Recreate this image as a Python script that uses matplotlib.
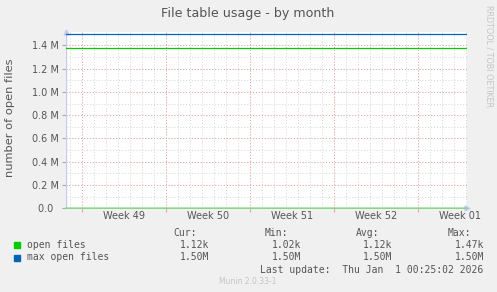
import numpy as np
import matplotlib
matplotlib.use("Agg")
from matplotlib import pyplot as plt

# data
week_labels = ["Week 49", "Week 50", "Week 51", "Week 52", "Week 01"]
open_files = [1050, 1080, 1120, 1100, 1150, 1090, 1020, 1130, 1110, 1160, 1120, 1080,
              1100, 1470, 1140, 1120, 1090, 1110, 1130, 1100, 1060, 1150, 1120, 1140,
              1100, 1090, 1120, 1180, 1110, 1130, 1100, 1120, 1120, 1120]
max_open_files = [1.50e6] * 34
warning_level = 1.38e6
y_ticks = [0.0, 0.2e6, 0.4e6, 0.6e6, 0.8e6, 1.0e6, 1.2e6, 1.4e6]
y_tick_labels = ["0.0  ", "0.2 M", "0.4 M", "0.6 M", "0.8 M", "1.0 M", "1.2 M", "1.4 M"]
legend_names = ["open files", "max open files"]
legend_colors = ["#00cc00", "#0066b3"]
stat_heads = ["Cur:", "Min:", "Avg:", "Max:"]
stat_values = [["1.12k", "1.02k", "1.12k", "1.47k"],
               ["1.50M", "1.50M", "1.50M", "1.50M"]]

W, H = 497, 292
bg = "#f0f0f0"
txt = "#555555"
span_days = 33.36   # visible range in days
week_start = 1.31   # first week boundary, days from left edge

fig = plt.figure(figsize=(W / 100, H / 100), dpi=100, facecolor=bg)
ax = fig.add_axes([66 / W, (H - 208.3) / H, 401 / W, 176.3 / H], facecolor="white")

days = np.linspace(0, span_days, len(open_files))
ax.plot(days, max_open_files, color=legend_colors[1], lw=0.9, zorder=5)
ax.axhline(warning_level, color=legend_colors[0], lw=0.9, zorder=5)
ax.plot(days, open_files, color="#7fd67f", lw=1.1, zorder=5, clip_on=False)

ax.set_xlim(0, span_days)
ax.set_ylim(0, 1.515e6)

# grid: grey minor, red major
for d in np.arange(week_start - 1, span_days, 1.0):
    ax.axvline(d, color="#d4d4d4", lw=0.7, ls=(0, (1, 2)), zorder=1)
for v in np.arange(0.1e6, 1.5e6, 0.1e6):
    ax.axhline(v, color="#d4d4d4", lw=0.7, ls=(0, (1, 2)), zorder=1)
week_pos = [week_start + 7 * i for i in range(len(week_labels))]
for d in week_pos:
    ax.axvline(d, color="#f0a0a0", lw=0.7, ls=(0, (1, 2)), zorder=2)
for v in y_ticks[1:]:
    ax.axhline(v, color="#f0a0a0", lw=0.7, ls=(0, (1, 2)), zorder=2)

for s in ax.spines.values():
    s.set_visible(False)
ax.axvline(0, color="#c8c8f0", lw=1, zorder=3)

ax.set_yticks(y_ticks)
ax.set_yticklabels(y_tick_labels, fontsize=7, color=txt)
ax.tick_params(axis="y", length=3, color="#aaaaaa", pad=2)
ax.set_xticks(week_pos)
ax.set_xticklabels([])
ax.tick_params(axis="x", length=3, color="#f0a0a0")
for d, lab in zip(week_pos, week_labels):
    ax.text(d + 3.5, -0.045, lab, transform=ax.get_xaxis_transform(),
            ha="center", va="center", fontsize=7, color=txt)

# axis arrows
ax.plot([0], [1.0], marker="^", ms=3.5, color="#c8c8f8", transform=ax.transAxes, clip_on=False)
ax.plot([1.0], [0], marker=">", ms=3.5, color="#c8c8f8", transform=ax.transAxes, clip_on=False)

fig.text(248 / W, 1 - 14 / H, "File table usage - by month", ha="center", va="center",
         fontsize=9.1, color=txt)
fig.text(10 / W, 1 - 118 / H, "number of open files", ha="center", va="center",
         rotation=90, fontsize=8.2, color=txt)
fig.text(489 / W, 1 - 56 / H, "RRDTOOL / TOBI OETIKER", ha="center", va="center",
         rotation=270, fontsize=5.8, color="#c4c4c4")

mono = "DejaVu Sans Mono"
head_x = [173, 265, 356, 448]
for hx, h in zip(head_x, stat_heads):
    fig.text(hx / W, 1 - 233 / H, h, ha="left", va="center", family=mono, fontsize=7, color=txt)
for row, (name, col) in enumerate(zip(legend_names, legend_colors)):
    y = 245 + 12.5 * row
    fig.patches.append(plt.Rectangle((14 / W, 1 - (y + 3) / H), 6 / W, 6 / H,
                                     transform=fig.transFigure, color=col))
    fig.text(27 / W, 1 - y / H, name, ha="left", va="center", family=mono, fontsize=7, color=txt)
    for hx, v in zip(head_x, stat_values[row]):
        fig.text((hx + 36) / W, 1 - y / H, v, ha="right", va="center", family=mono,
                 fontsize=7, color=txt)
fig.text(483 / W, 1 - 270 / H, "Last update:  Thu Jan  1 00:25:02 2026", ha="right",
         va="center", family=mono, fontsize=7, color=txt)
fig.text(248 / W, 1 - 282 / H, "Munin 2.0.33-1", ha="center", va="center",
         fontsize=5.5, color="#c4c4c4")

fig.savefig("out.png", dpi=100, facecolor=bg)
